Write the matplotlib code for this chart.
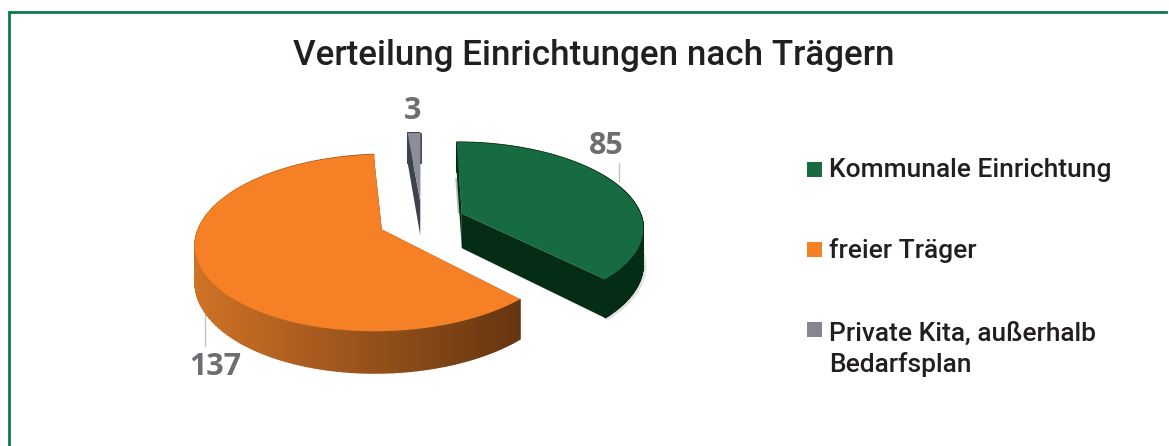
import numpy as np
import matplotlib
matplotlib.use("Agg")
import matplotlib.pyplot as plt
from matplotlib.colors import to_rgb
from matplotlib.lines import Line2D
from matplotlib.patches import Polygon, Rectangle

# data
categories = ["Kommunale Einrichtung", "freier Träger", "Private Kita, außerhalb\nBedarfsplan"]
values = [85, 137, 3]
top_colors = ["#176b40", "#f58025", "#8a8f99"]
legend_colors = ["#176b40", "#f58025", "#84878f"]
wall_left = ["#052c14", "#cf7226", "#3d434c"]
wall_right = ["#052c14", "#653510", "#3d434c"]
label_pos = [(606, 146), (215, 367), (413, 111)]
legend_baselines = [177, 258, 372]
legend_marker_tops = [162, 242, 322]

# projection of the tilted pie onto the pixel grid
CX, CY, RX, RY, PERSP, DEPTH, EXPLODE = 422, 221, 181, 84, 0.148, 35, 0.24


def project(X, Y, z=0.0):
    w = 1 + PERSP * Y
    return CX + RX * X / w, CY - RY * Y / w + z * DEPTH / w


fig = plt.figure(figsize=(11.69, 4.46), dpi=100, facecolor="white")
ax = fig.add_axes([0, 0, 1, 1])
ax.set_xlim(0, 1169)
ax.set_ylim(446, 0)
ax.axis("off")

# frame
FRAME = "#0a7a48"
ax.add_line(Line2D([9, 9, 1166], [446, 12, 12], color=FRAME, lw=2.0, solid_joinstyle="miter"))

# slices, clockwise from twelve o'clock
fractions = np.array(values) / sum(values) * 360
ends = 90 - np.cumsum(fractions)
starts = ends + fractions
draw_order = [2, 1, 0]
for i in draw_order:
    a0, a1 = np.radians(starts[i]), np.radians(ends[i])
    mid = (a0 + a1) / 2
    ox, oy = EXPLODE * np.cos(mid), EXPLODE * np.sin(mid)
    t = np.linspace(a0, a1, 240)
    RimX, RimY = ox + np.cos(t), oy + np.sin(t)
    xs, ys = project(RimX, RimY)
    xb, yb = project(RimX, RimY, 1)
    ax0, ay0 = project(np.array([ox]), np.array([oy]))
    ax1, ay1 = project(np.array([ox]), np.array([oy]), 1)
    # soft shadows around the exploded green slice
    if i == 0:
        ax.add_patch(Polygon(np.c_[np.r_[xb + 3, ax1[0] + 3], np.r_[yb + 2, ay1[0] + 2]],
                             fc="#e0e0e0", ec="none", zorder=i + 0.5))
        mx, my = (xs[0] + ax0[0]) / 2, (ys[0] + ay0[0]) / 2
        ax.add_patch(Polygon([(mx - 4, my), (mx + 2, my), (ax0[0], ay0[0]), (ax0[0] - 4, ay0[0])],
                             fc="#b9bbb9", ec="none", zorder=i + 0.5))
    # cut walls
    for ex, ey, ebx, eby in [(xs[0], ys[0], xb[0], yb[0]), (xs[-1], ys[-1], xb[-1], yb[-1])]:
        ax.add_patch(Polygon([(ax0[0], ay0[0]), (ex, ey), (ebx, eby), (ax1[0], ay1[0])],
                             fc=wall_left[i] if i != 1 else wall_right[i], ec="none", zorder=i + 1))
    # outer wall with a left-to-right shade
    cl, cr = np.array(to_rgb(wall_left[i])), np.array(to_rgb(wall_right[i]))
    xmin, xmax = xs.min(), xs.max()
    for j in range(len(t) - 1):
        f = ((xs[j] + xs[j + 1]) / 2 - xmin) / max(xmax - xmin, 1)
        c = cl + (cr - cl) * f
        ax.add_patch(Polygon([(xs[j], ys[j]), (xs[j + 1], ys[j + 1]), (xb[j + 1], yb[j + 1]), (xb[j], yb[j])],
                             fc=c, ec=c, lw=1, zorder=i + 1.2))
    # top face
    ax.add_patch(Polygon(np.c_[np.r_[ax0[0], xs], np.r_[ay0[0], ys]], fc=top_colors[i], ec="none", zorder=i + 2))

# leader lines and value labels
GREY = "#6d6e71"
ax.add_line(Line2D([619, 619], [163, 181], color="#c4c4c4", lw=1, zorder=9))
ax.add_line(Line2D([205, 205], [308, 346], color="#c4c4c4", lw=1, zorder=0.5))
for v, (x, y) in zip(values, label_pos):
    ax.text(x, y, str(v), color=GREY, fontsize=22, fontweight="bold", family="Open Sans",
            ha="center", va="center", zorder=10)

ax.text(594, 56, "Verteilung Einrichtungen nach Trägern", color="#231f20", fontsize=25.2,
        family="Roboto", fontweight="medium", ha="center", va="center")

# legend
for name, c, base, top in zip(categories, legend_colors, legend_baselines, legend_marker_tops):
    ax.add_patch(Rectangle((807, top), 15, 15, fc=c, ec="none"))
    ax.text(829, base, name, color="#231f20", fontsize=19, family="Roboto", fontweight="medium",
            ha="left", va="baseline", linespacing=1.32)
fig.savefig("out.png", dpi=100)
